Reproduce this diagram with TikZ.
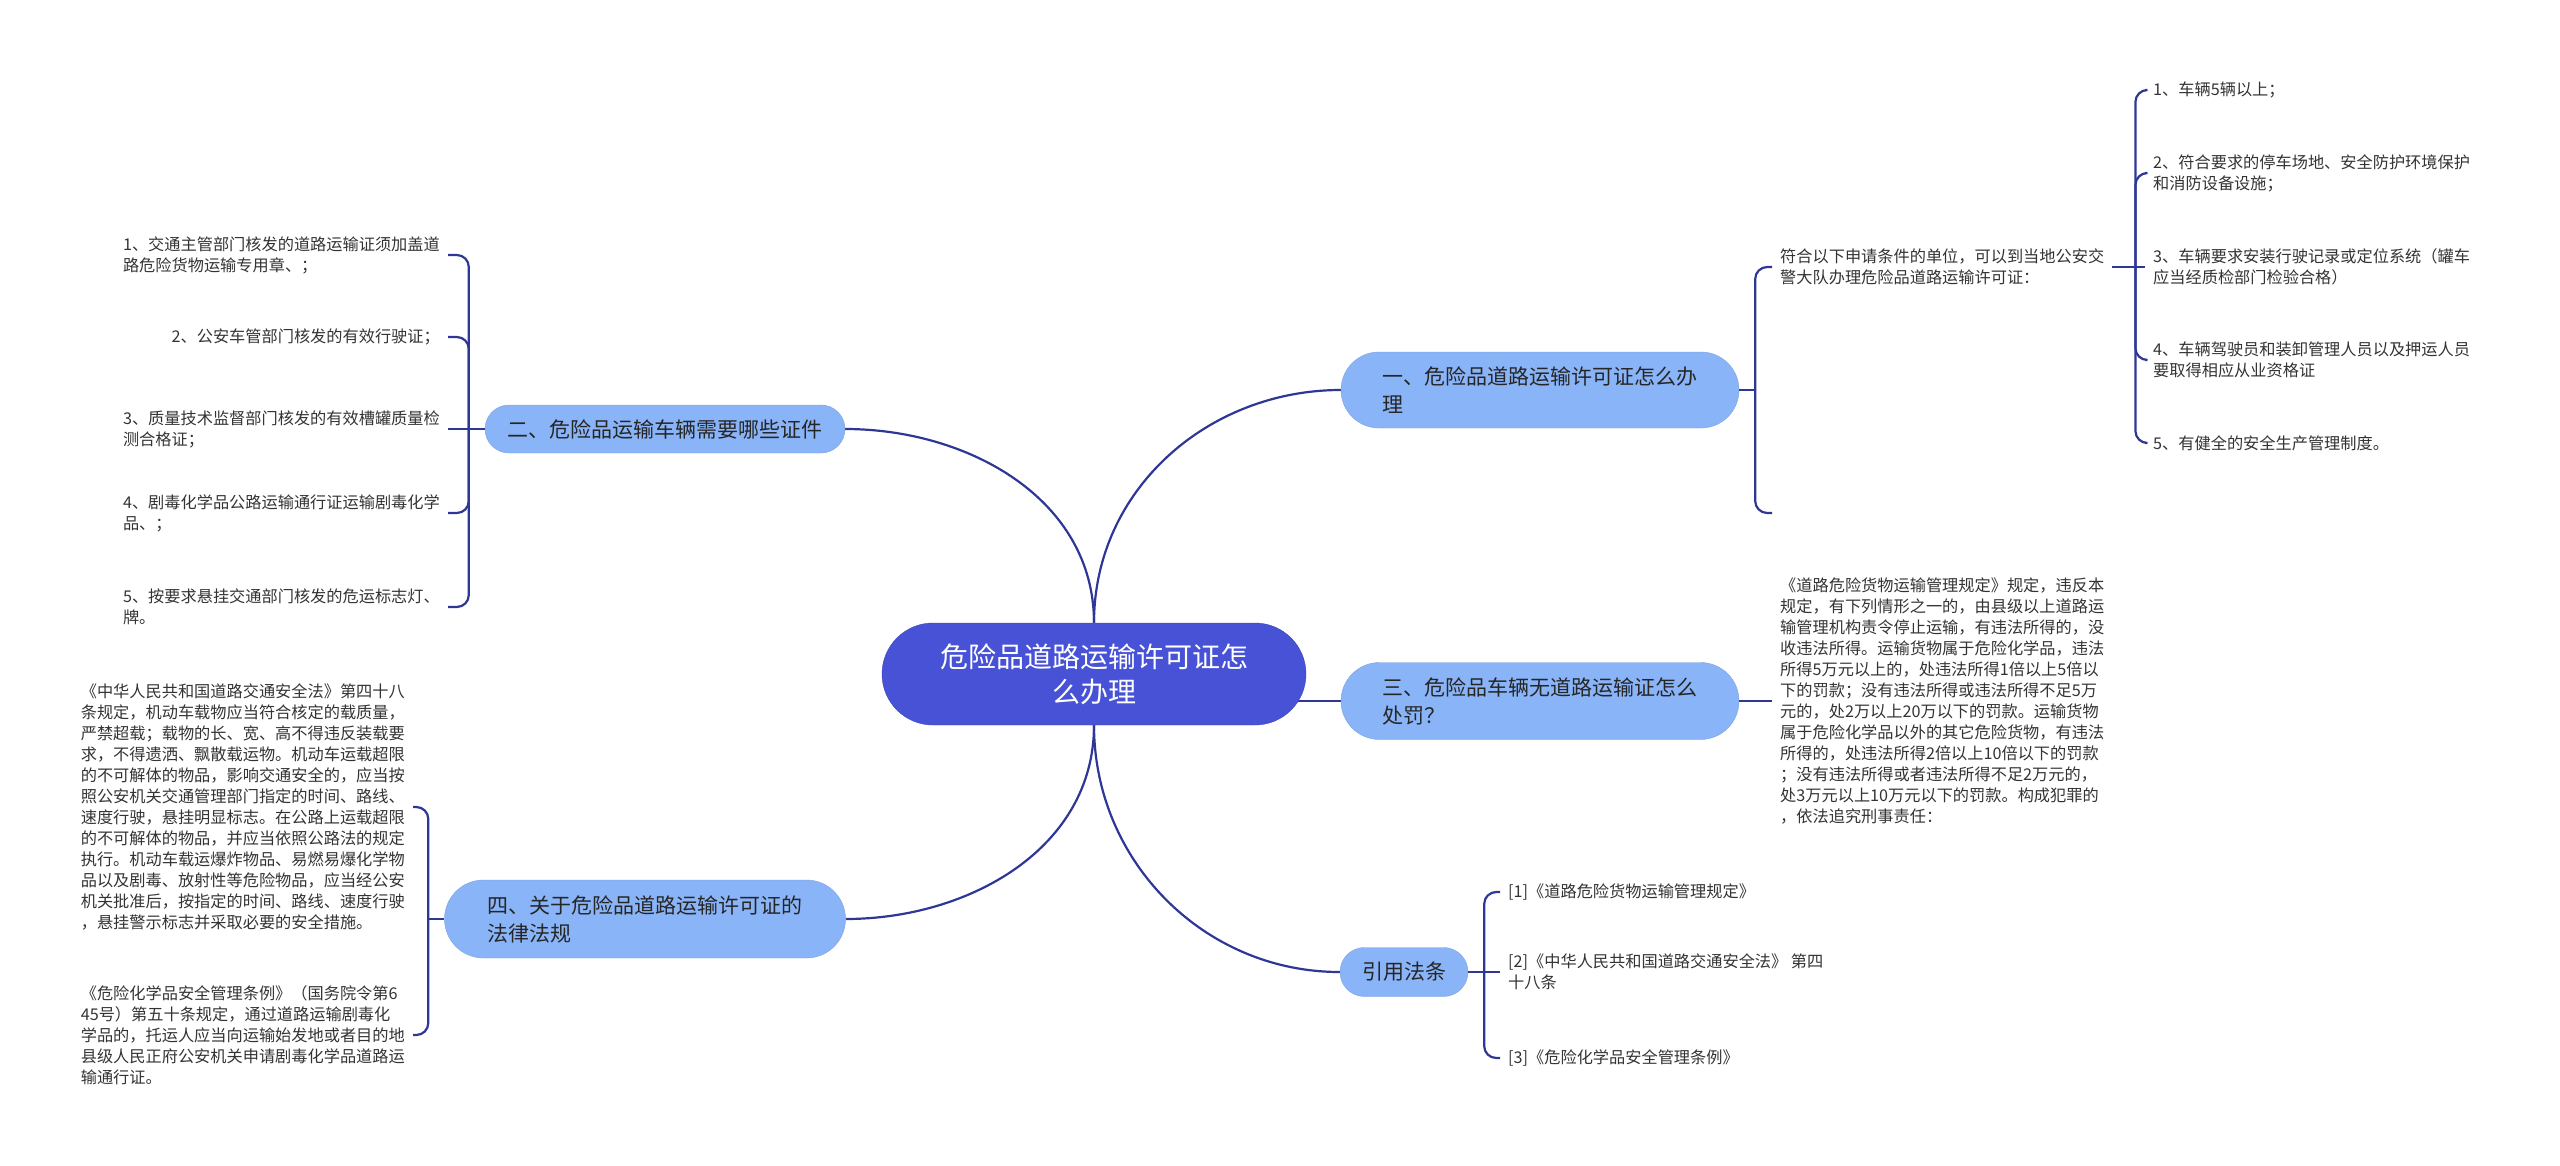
\documentclass[tikz,border=0pt]{standalone}
\usepackage{fontspec}
\setmainfont{Noto Sans CJK SC}
\definecolor{rootblue}{HTML}{4852D6}
\definecolor{branchblue}{HTML}{8AB4F8}
\definecolor{linkblue}{HTML}{2E3796}
\definecolor{leafgray}{HTML}{333333}
\usepackage{tikz}
\usetikzlibrary{
  shapes.misc, backgrounds, calc
}
\tikzset{
	rootnode/.style={
			shape=rounded rectangle,
			fill=rootblue,
			draw=rootblue!85!black,
			text=white,
			font=\fontsize{28pt}{35pt}\selectfont,
			align=center,
			minimum width=428pt,
			minimum height=102pt,
			inner xsep=2pt,
			inner ysep=0pt
		},
	branchnode/.style={
			shape=rounded rectangle,
			fill=branchblue,
			draw=branchblue!90!black,
			text=black!85,
			font=\fontsize{21pt}{28pt}\selectfont,
			align=left,
			inner xsep=2pt,
			inner ysep=0pt
		},
	leafnode/.style={
			text=leafgray,
			font=\fontsize{16.2pt}{21pt}\selectfont,
			align=left,
			inner xsep=8pt,
			inner ysep=2pt
		}
}
\tikzset{
	link/.style={draw=linkblue, line width=2.2pt},
	bracelink/.style={link, rounded corners=12pt}
}

\begin{document}
\begin{tikzpicture}[x=1pt, y=1pt]

  \useasboundingbox (0,0) rectangle (2560,-1165);

  \node[rootnode] (root) at (1094,-674) {危险品道路运输许可证怎\\么办理};

  \node[branchnode, minimum width=402pt, minimum height=76pt] (b1) at (1540,-390) {一、危险品道路运输许可证怎么办\\理};
  \node[branchnode, minimum width=364pt, minimum height=48pt] (b2) at (665,-429) {二、危险品运输车辆需要哪些证件};
  \node[branchnode, minimum width=402pt, minimum height=77pt] (b3) at (1540,-701) {三、危险品车辆无道路运输证怎么\\处罚？};
  \node[branchnode, minimum width=405pt, minimum height=78pt] (b4) at (645,-919) {四、关于危险品道路运输许可证的\\法律法规};
  \node[branchnode, minimum width=132pt, minimum height=49pt] (b5) at (1404,-972) {引用法条};

  \node[leafnode, anchor=west] (b1t) at (1772,-267) {符合以下申请条件的单位，可以到当地公安交\\警大队办理危险品道路运输许可证：};
  \coordinate (b1e) at (1772,-513);

  \node[leafnode, anchor=west] (b1l1) at (2145,-90) {1、车辆5辆以上；};
  \node[leafnode, anchor=west] (b1l2) at (2145,-173) {2、符合要求的停车场地、安全防护环境保护\\和消防设备设施；};
  \node[leafnode, anchor=west] (b1l3) at (2145,-267) {3、车辆要求安装行驶记录或定位系统（罐车\\应当经质检部门检验合格）};
  \node[leafnode, anchor=west] (b1l4) at (2145,-360) {4、车辆驾驶员和装卸管理人员以及押运人员\\要取得相应从业资格证};
  \node[leafnode, anchor=west] (b1l5) at (2145,-443) {5、有健全的安全生产管理制度。};

  \node[leafnode, anchor=east] (b2l1) at (448,-255) {1、交通主管部门核发的道路运输证须加盖道\\路危险货物运输专用章、；};
  \node[leafnode, anchor=east] (b2l2) at (448,-337) {2、公安车管部门核发的有效行驶证；};
  \node[leafnode, anchor=east] (b2l3) at (448,-429) {3、质量技术监督部门核发的有效槽罐质量检\\测合格证；};
  \node[leafnode, anchor=east] (b2l4) at (448,-513) {4、剧毒化学品公路运输通行证运输剧毒化学\\品、；};
  \node[leafnode, anchor=east] (b2l5) at (448,-607) {5、按要求悬挂交通部门核发的危运标志灯、\\牌。};

  \node[leafnode, anchor=west] (b3l1) at (1772,-701) {《道路危险货物运输管理规定》规定，违反本\\
    规定，有下列情形之一的，由县级以上道路运\\
    输管理机构责令停止运输，有违法所得的，没\\
    收违法所得。运输货物属于危险化学品，违法\\
    所得5万元以上的，处违法所得1倍以上5倍以\\
    下的罚款；没有违法所得或违法所得不足5万\\
    元的，处2万以上20万以下的罚款。运输货物\\
    属于危险化学品以外的其它危险货物，有违法\\
    所得的，处违法所得2倍以上10倍以下的罚款\\
    ；没有违法所得或者违法所得不足2万元的，\\
    处3万元以上10万元以下的罚款。构成犯罪的\\
    ，依法追究刑事责任：};

  \node[leafnode, anchor=east] (b4l1) at (413,-807) {《中华人民共和国道路交通安全法》第四十八\\
    条规定，机动车载物应当符合核定的载质量，\\
    严禁超载；载物的长、宽、高不得违反装载要\\
    求，不得遗洒、飘散载运物。机动车运载超限\\
    的不可解体的物品，影响交通安全的，应当按\\
    照公安机关交通管理部门指定的时间、路线、\\
    速度行驶，悬挂明显标志。在公路上运载超限\\
    的不可解体的物品，并应当依照公路法的规定\\
    执行。机动车载运爆炸物品、易燃易爆化学物\\
    品以及剧毒、放射性等危险物品，应当经公安\\
    机关批准后，按指定的时间、路线、速度行驶\\
    ，悬挂警示标志并采取必要的安全措施。};
  \node[leafnode, anchor=east] (b4l2) at (413,-1035) {《危险化学品安全管理条例》（国务院令第6\\
    45号）第五十条规定，通过道路运输剧毒化\\
    学品的，托运人应当向运输始发地或者目的地\\
    县级人民正府公安机关申请剧毒化学品道路运\\
    输通行证。};

  \node[leafnode, anchor=west] (b5l1) at (1500,-892) {[1]《道路危险货物运输管理规定》};
  \node[leafnode, anchor=west] (b5l2) at (1500,-972) {[2]《中华人民共和国道路交通安全法》 第四\\十八条};
  \node[leafnode, anchor=west] (b5l3) at (1500,-1058) {[3]《危险化学品安全管理条例》};

  \coordinate (j1) at ($(b1.east)+(16,0)$);
  \coordinate (j1t) at ($(b1t.east)+(23,0)$);
  \coordinate (j2) at ($(b2.west)+(-16,0)$);
  \coordinate (j4) at ($(b4.west)+(-16,0)$);
  \coordinate (j5) at ($(b5.east)+(16,0)$);

  \begin{scope}[on background layer]
    \draw[link] (root.north) to[out=90, in=180] (b1.west);
    \draw[link] (root.north) to[out=90, in=0] (b2.east);
    \draw[link] (root.center |- b3.west) -- (b3.west);
    \draw[link] (root.south) to[out=-90, in=180] (b5.west);
    \draw[link] (root.south) to[out=-90, in=0] (b4.east);
  \end{scope}

  \draw[link] (b1.east) -- (j1);
  \draw[bracelink] (j1) |- (b1t.west);
  \draw[bracelink] (j1) |- (b1e);

  \draw[link] (b1t.east) -- (j1t);
  \draw[bracelink] (j1t) |- (b1l1.west);
  \draw[bracelink] (j1t) |- (b1l2.west);
  \draw[link] (j1t) -- (b1l3.west);
  \draw[bracelink] (j1t) |- (b1l4.west);
  \draw[bracelink] (j1t) |- (b1l5.west);

  \draw[link] (b2.west) -- (j2);
  \draw[bracelink] (j2) |- (b2l1.east);
  \draw[bracelink] (j2) |- (b2l2.east);
  \draw[link] (j2) -- (b2l3.east);
  \draw[bracelink] (j2) |- (b2l4.east);
  \draw[bracelink] (j2) |- (b2l5.east);

  \draw[link] (b3.east) -- (b3l1.west);

  \draw[link] (b4.west) -- (j4);
  \draw[bracelink] (j4) |- (b4l1.east);
  \draw[bracelink] (j4) |- (b4l2.east);

  \draw[link] (b5.east) -- (j5);
  \draw[bracelink] (j5) |- (b5l1.west);
  \draw[link] (j5) -- (b5l2.west);
  \draw[bracelink] (j5) |- (b5l3.west);

\end{tikzpicture}
\end{document}
